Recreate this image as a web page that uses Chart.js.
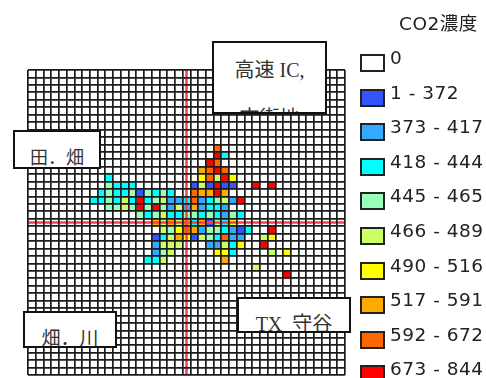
<!DOCTYPE html>
<html>
<head>
<meta charset="utf-8">
<script src="https://cdn.jsdelivr.net/npm/chart.js@4/dist/chart.umd.js"></script>
<style>
html,body{margin:0;padding:0;background:#fff;width:486px;height:378px;overflow:hidden}
#wrap{position:relative;width:486px;height:378px;overflow:hidden}
canvas{position:absolute;left:0;top:0}
.note{position:absolute;box-sizing:border-box;background:#fff;border:2px solid #111;overflow:hidden;
  font-family:"Liberation Serif","Noto Sans CJK JP",serif;color:#333;text-align:center;white-space:pre}
.lg{position:absolute;left:390px;font:18.5px/20px "DejaVu Sans",sans-serif;letter-spacing:.5px;color:#222;white-space:nowrap}
.sw{position:absolute;left:360px;width:25px;height:18px;box-sizing:border-box;border:2px solid #222}
#title{position:absolute;left:399px;top:13px;font:18.5px/22px "DejaVu Sans","Noto Sans CJK JP",sans-serif;letter-spacing:.5px;color:#222;white-space:nowrap}
</style>
</head>
<body>
<div id="wrap">
<canvas id="c" width="486" height="378"></canvas>
<div id="title">CO2濃度</div>
</div>
<script>
const columns = Array.from({length: 41}, (_, i) => String(i));
const rowCount = 41;
const crossCol = 20;
const crossRow = 20;

const classLabels = ["0","1 - 372","373 - 417","418 - 444","445 - 465","466 - 489","490 - 516","517 - 591","592 - 672","673 - 844"];
const classColors = ["#ffffff","#3355ff","#33aaff","#00ffff","#99ffbb","#ccff66","#ffff00","#ffaa00","#ff6600","#ff0000"];

// each row: [column, class index] pairs
const row10 = [[24,8]];
const row11 = [[24,9],[25,3]];
const row12 = [[23,9],[24,8]];
const row13 = [[22,7],[23,8],[24,9],[25,8]];
const row14 = [[10,3],[22,6],[23,8],[24,5],[25,9],[26,6]];
const row15 = [[10,4],[11,3],[12,3],[13,3],[21,1],[22,5],[23,1],[24,9],[25,1],[26,1],[29,9],[31,9]];
const row16 = [[9,3],[10,4],[11,3],[12,3],[13,4],[14,1],[15,4],[16,3],[17,4],[18,3],[21,8],[22,7],[23,7],[24,9],[25,7]];
const row17 = [[8,3],[9,3],[10,4],[11,3],[12,5],[13,3],[14,9],[15,3],[16,4],[17,5],[18,2],[19,2],[20,3],[21,8],[22,2],[23,3],[24,4],[25,5],[26,2],[27,9]];
const row18 = [[10,4],[11,4],[12,5],[13,4],[14,9],[15,4],[16,9],[17,4],[18,2],[19,5],[20,2],[21,7],[22,2],[23,3],[24,3],[25,2]];
const row19 = [[14,4],[15,3],[16,4],[17,5],[18,3],[19,3],[20,4],[21,4],[22,3],[23,4],[24,3],[25,2],[26,4],[27,3]];
const row20 = [[16,7],[17,5],[18,7],[19,5],[20,7],[21,3],[22,7],[23,1],[24,5],[25,3],[26,6]];
const row21 = [[17,5],[18,4],[19,6],[20,8],[21,7],[22,2],[23,4],[24,4],[25,3],[26,2],[27,1],[28,3],[31,9]];
const row22 = [[16,1],[17,3],[18,5],[19,7],[20,6],[21,1],[22,5],[23,4],[24,3],[25,8],[26,2],[27,2],[30,5],[31,6]];
const row23 = [[16,2],[17,5],[18,5],[19,5],[23,2],[24,2],[25,5],[26,3],[27,6],[30,9]];
const row24 = [[16,2],[17,4],[18,5],[24,6],[25,6],[26,3],[31,5],[33,6]];
const row25 = [[15,3],[16,3],[17,5],[25,7]];
const row26 = [[29,5]];
const row27 = [[33,9]];
const filledRows = {10:row10,11:row11,12:row12,13:row13,14:row14,15:row15,16:row16,17:row17,18:row18,19:row19,20:row20,21:row21,22:row22,23:row23,24:row24,25:row25,26:row26,27:row27};

const datasets = classLabels.map((label, k) => ({
  label,
  backgroundColor: classColors[k],
  borderWidth: 0,
  grouped: false,
  barPercentage: 1,
  categoryPercentage: 1,
  data: Object.entries(filledRows).flatMap(([r, cells]) =>
    cells.filter(c => c[1] === k).map(c => ({x: String(c[0]), y: [Number(r), Number(r) + 1]})))
})).slice(1);

const crossLines = {
  id: 'crossLines',
  afterDatasetsDraw(chart) {
    const {ctx, chartArea: a, scales: {x, y}} = chart;
    const px = x.getPixelForValue(crossCol);
    const py = y.getPixelForValue(crossRow + 0.5);
    ctx.save();
    ctx.strokeStyle = '#ff3b4a';
    ctx.lineWidth = 2.5;
    ctx.beginPath();
    ctx.moveTo(px, a.top); ctx.lineTo(px, a.bottom);
    ctx.moveTo(a.left, py); ctx.lineTo(a.right, py);
    ctx.stroke();
    ctx.restore();
  }
};

new Chart(document.getElementById('c'), {
  type: 'bar',
  data: {labels: columns, datasets},
  plugins: [crossLines],
  options: {
    responsive: false,
    animation: false,
    layout: {padding: {left: 28, top: 70, right: 141, bottom: 3}},
    plugins: {legend: {display: false}, tooltip: {enabled: false}},
    scales: {
      x: {
        type: 'category',
        offset: true,
        grid: {offset: true, color: '#1c1c1c', lineWidth: 1.7, z: 1, drawTicks: false},
        border: {display: false},
        ticks: {display: false, autoSkip: false}
      },
      y: {
        type: 'linear',
        reverse: true,
        min: 0,
        max: rowCount,
        afterBuildTicks(s) { s.ticks = Array.from({length: rowCount + 1}, (_, i) => ({value: i})); },
        grid: {color: '#1c1c1c', lineWidth: 1.7, z: 1, drawTicks: false},
        border: {display: false},
        ticks: {display: false}
      }
    }
  }
});

const wrap = document.getElementById('wrap');

classLabels.forEach((label, k) => {
  const top = 54 + k * 34.6;
  const sw = document.createElement('div');
  sw.className = 'sw';
  sw.style.top = top + 'px';
  sw.style.background = classColors[k];
  wrap.appendChild(sw);
  const t = document.createElement('div');
  t.className = 'lg';
  t.style.top = (top - 6) + 'px';
  t.textContent = label;
  wrap.appendChild(t);
});

const noteTexts = ["高速 IC,\n市街地", "田．畑", "畑．川", "TX 守谷"];
const noteBoxes = [[212,41,115,73,20,48,3,0],[13,130,88,39,18,20,16,0],[23,311,94,37,19,20,16,0],[237,297,114,36,20,20,14.5,5]];
noteTexts.forEach((text, i) => {
  const [l, t, w, h, fs, lh, pad, ws] = noteBoxes[i];
  const d = document.createElement('div');
  d.className = 'note';
  d.style.cssText = `left:${l}px;top:${t}px;width:${w}px;height:${h}px;font-size:${fs}px;line-height:${lh}px;padding-top:${pad}px;word-spacing:${ws}px`;
  d.textContent = text;
  wrap.appendChild(d);
});
</script>
</body>
</html>
